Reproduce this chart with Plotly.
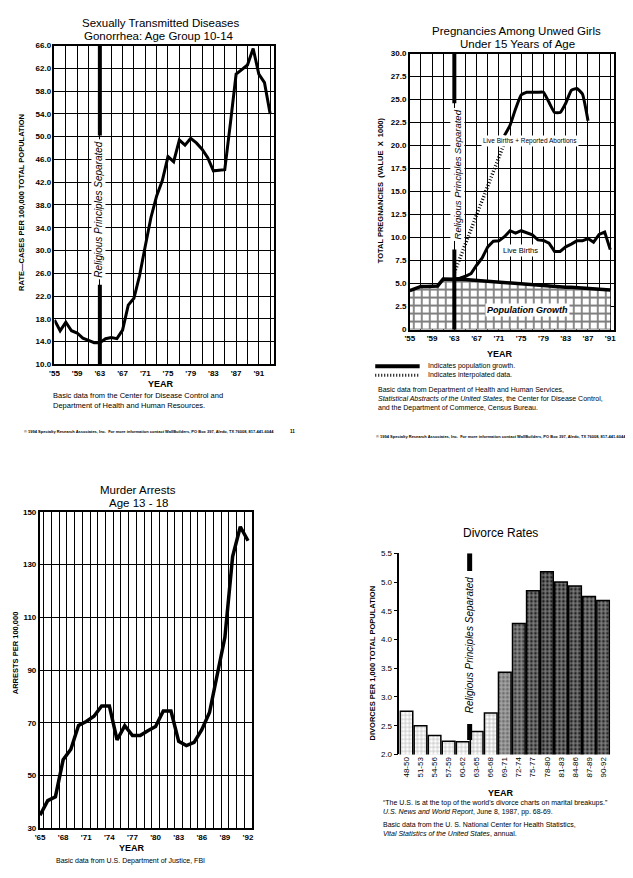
import plotly.graph_objects as go

FONT = "Liberation Sans, Arial, sans-serif"
# The page body keeps its default 8px margin, so the figure is drawn 8px in
# from the top-left corner; size and coordinates compensate for that.
OFF = 8
W, H = 617, 862

# ---------------- Chart 1: Gonorrhea, age 10-14 ----------------
gon_years = list(range(1955, 1994))
gon_rate = [17.8, 15.9, 17.4, 15.9, 15.5, 14.6, 14.2, 13.8, 13.8, 14.5,
            14.7, 14.5, 16.0, 20.4, 21.6, 25.6, 30.8, 35.8, 39.6, 42.3,
            46.5, 45.6, 49.4, 48.5, 49.7, 48.9, 47.8, 46.3, 44.0, 44.1,
            44.2, 52.4, 61.0, 61.8, 62.6, 65.5, 61.0, 59.5, 54.0]
gon_tick_years = [1955, 1959, 1963, 1967, 1971, 1975, 1979, 1983, 1987, 1991]
gon_tick_labels = ["'55", "'59", "'63", "'67", "'71", "'75", "'79", "'83", "'87", "'91"]
gon_y_ticks = [10, 14, 18, 22, 26, 30, 34, 38, 42, 46, 50, 54, 58, 62, 66]

# ---------------- Chart 2: Pregnancies among unwed girls ----------------
preg_years = list(range(1955, 1992))
pop_growth = [4.25, 4.5, 4.7, 4.7, 4.7, 4.75, 5.5, 5.5, 5.5, 5.5,
              5.45, 5.4, 5.35, 5.3, 5.25, 5.2, 5.15, 5.1, 5.05, 5.0,
              4.95, 4.9, 4.85, 4.8, 4.75, 4.7, 4.68, 4.65, 4.62, 4.6,
              4.55, 4.5, 4.48, 4.45, 4.4, 4.35, 4.3]
births_years = list(range(1963, 1992))
live_births = [5.5, 5.6, 5.8, 6.1, 7.0, 7.8, 9.0, 9.6, 9.65, 10.1,
               10.75, 10.5, 10.75, 10.5, 10.3, 9.75, 9.7, 9.4, 8.5, 8.5,
               9.0, 9.3, 9.65, 9.65, 9.9, 9.5, 10.35, 10.6, 8.7]
abort_years = list(range(1972, 1988))
births_plus_abortions = [21.1, 22.2, 24.0, 25.5, 25.8, 25.8, 25.8, 25.8, 24.7,
                         23.6, 23.6, 24.6, 26.0, 26.2, 25.6, 22.7]
interp_years = [1963, 1972]
interp_values = [6.2, 20.3]
preg_tick_years = [1955, 1959, 1963, 1967, 1971, 1975, 1979, 1983, 1987, 1991]
preg_tick_labels = ["'55", "'59", "'63", "'67", "'71", "'75", "'79", "'83", "'87", "'91"]
preg_y_ticks = [0, 2.5, 5, 7.5, 10, 12.5, 15, 17.5, 20, 22.5, 25, 27.5, 30]
preg_y_labels = ["0", "2.5", "5.0", "7.5", "10.0", "12.5", "15.0", "17.5",
                 "20.0", "22.5", "25.0", "27.5", "30.0"]

# ---------------- Chart 3: Murder arrests, age 13-18 ----------------
murder_years = list(range(1965, 1993))
murder_rate = [35, 40.5, 42, 56, 60, 69, 70.5, 72.5, 76.4, 76.4,
               63.5, 68.9, 65.2, 65.2, 67, 68.6, 74.5, 74.5, 63, 61.4,
               62.6, 67.4, 73.9, 87.4, 102.4, 133, 144.3, 139]
murder_tick_years = [1965, 1968, 1971, 1974, 1977, 1980, 1983, 1986, 1989, 1992]
murder_tick_labels = ["'65", "'68", "'71", "'74", "'77", "'80", "'83", "'86", "'89", "'92"]
murder_y_ticks = [30, 50, 70, 90, 110, 130, 150]

# ---------------- Chart 4: Divorce rates ----------------
div_periods = ["48-50", "51-53", "54-56", "57-59", "60-62", "63-65", "66-68",
               "69-71", "72-74", "75-77", "78-80", "81-83", "84-86", "87-89", "90-92"]
div_rates = [2.75, 2.5, 2.33, 2.23, 2.22, 2.4, 2.72, 3.43, 4.28, 4.85,
             5.18, 5.0, 4.93, 4.75, 4.68]
div_shades = ["white", "white", "white", "white", "white", "white", "white",
              "#6e6e6e", "#3c3c3c", "#262626", "#1e1e1e", "#222222", "#222222",
              "#282828", "#2a2a2a"]
div_solidity = [0.25, 0.25, 0.25, 0.25, 0.25, 0.3, 0.3, 0.45, 0.5, 0.5,
                0.5, 0.5, 0.5, 0.5, 0.5]
div_y_ticks = [2.0, 2.5, 3.0, 3.5, 4.0, 4.5, 5.0, 5.5]

SEPARATION_YEAR = 1963
SEPARATION_PERIOD_POS = 4.5

fig = go.Figure()

fig.add_trace(go.Scatter(x=gon_years, y=gon_rate, mode="lines",
                         line=dict(color="black", width=3), xaxis="x", yaxis="y",
                         showlegend=False))
fig.add_trace(go.Scatter(x=preg_years, y=pop_growth, mode="lines",
                         line=dict(color="black", width=3.5), fill="tozeroy",
                         fillcolor="white",
                         fillpattern=dict(shape="+", fgcolor="black", bgcolor="white",
                                          size=8, solidity=0.4),
                         xaxis="x2", yaxis="y2", showlegend=False))
fig.add_trace(go.Scatter(x=births_years, y=live_births, mode="lines",
                         line=dict(color="black", width=3), xaxis="x2", yaxis="y2",
                         showlegend=False))
fig.add_trace(go.Scatter(x=abort_years, y=births_plus_abortions, mode="lines",
                         line=dict(color="black", width=3, shape="spline", smoothing=0.4),
                         xaxis="x2", yaxis="y2", showlegend=False))
fig.add_trace(go.Scatter(x=interp_years, y=interp_values, mode="lines",
                         line=dict(color="black", width=3.5, dash="1px,2px"),
                         xaxis="x2", yaxis="y2", showlegend=False))
fig.add_trace(go.Scatter(x=murder_years, y=murder_rate, mode="lines",
                         line=dict(color="black", width=3.5), xaxis="x3", yaxis="y3",
                         showlegend=False))
fig.add_trace(go.Bar(x=div_periods, y=div_rates, xaxis="x4", yaxis="y4",
                     marker=dict(color=div_shades,
                                 line=dict(color="black", width=1.5),
                                 pattern=dict(shape="+", fgcolor="black",
                                              bgcolor=div_shades, size=4,
                                              solidity=div_solidity)),
                     showlegend=False))


def px_x(p):
    return (p - OFF) / W


def px_y(p):
    return 1 - (p - OFF) / H


tickfont = dict(family=FONT, size=8, color="black", weight="bold")
boxaxis = dict(showline=True, mirror=True, linecolor="black", linewidth=1.5,
               ticks="", zeroline=False, tickfont=tickfont,
               gridcolor="black", gridwidth=1.2)

fig.update_layout(
    width=W, height=H, autosize=False,
    margin=dict(l=0, r=0, t=0, b=0),
    paper_bgcolor="white", plot_bgcolor="white",
    font=dict(family=FONT, color="black"),
    bargap=0.1,
    xaxis=dict(domain=[px_x(50), px_x(272)], range=[1955, 1993.6], anchor="y",
               tickmode="array", tickvals=gon_tick_years, ticktext=gon_tick_labels,
               showgrid=True,
               minor=dict(tickmode="linear", tick0=1955, dtick=2, showgrid=True,
                          gridcolor="black", gridwidth=1.2, ticks=""),
               **boxaxis),
    yaxis=dict(domain=[px_y(364), px_y(42)], range=[10, 66], anchor="x",
               tickmode="array", tickvals=gon_y_ticks, tickformat=".1f",
               showgrid=True, **boxaxis),
    xaxis2=dict(domain=[px_x(410), px_x(616.5)], range=[1955, 1991.6], anchor="y2",
                tickmode="array", tickvals=preg_tick_years, ticktext=preg_tick_labels,
                showgrid=True,
                minor=dict(tickmode="linear", tick0=1955, dtick=2, showgrid=True,
                           gridcolor="black", gridwidth=1.2, ticks=""),
                **boxaxis),
    yaxis2=dict(domain=[px_y(329), px_y(50)], range=[0, 30], anchor="x2",
                tickmode="array", tickvals=preg_y_ticks, ticktext=preg_y_labels,
                showgrid=True, **boxaxis),
    xaxis3=dict(domain=[px_x(35), px_x(250)], range=[1964.95, 1992.5], anchor="y3",
                tickmode="array", tickvals=murder_tick_years, ticktext=murder_tick_labels,
                showgrid=False,
                minor=dict(tickmode="linear", tick0=1965.5, dtick=1, showgrid=True,
                           gridcolor="black", gridwidth=1.1, ticks=""),
                **boxaxis),
    yaxis3=dict(domain=[px_y(833), px_y(513)], range=[30, 150], anchor="x3",
                tickmode="array", tickvals=murder_y_ticks, showgrid=True, **boxaxis),
    xaxis4=dict(domain=[px_x(399.5), px_x(613)], anchor="y4", showline=False,
                showgrid=False, zeroline=False, ticks="", tickangle=-90,
                tickfont=dict(family=FONT, size=8, color="black")),
    yaxis4=dict(domain=[px_y(758.3), px_y(555)], range=[2.0, 5.5], anchor="x4",
                tickmode="array", tickvals=div_y_ticks, tickformat=".1f",
                showline=True, linecolor="black", linewidth=1.5, showgrid=False,
                zeroline=False, ticks="outside", ticklen=4, tickcolor="black",
                tickfont=dict(family=FONT, size=8, color="black")),
)

shapes = []
for (xr, yr, x0, segs, w) in [
        ("x", "y", SEPARATION_YEAR, [(10, 24.0), (50.2, 66)], 4),
        ("x2", "y2", SEPARATION_YEAR, [(0, 8.7), (24.6, 30)], 4),
        ("x4", "y4", SEPARATION_PERIOD_POS, [(2.25, 2.53), (5.19, 5.5)], 5)]:
    for (a, b) in segs:
        shapes.append(dict(type="line", xref=xr, yref=yr, x0=x0, x1=x0, y0=a, y1=b,
                           line=dict(color="black", width=w)))
# chart 2 legend samples
shapes.append(dict(type="line", xref="paper", yref="paper",
                   x0=px_x(375), x1=px_x(420), y0=px_y(366), y1=px_y(366),
                   line=dict(color="black", width=4)))
shapes.append(dict(type="line", xref="paper", yref="paper",
                   x0=px_x(375), x1=px_x(420), y0=px_y(375), y1=px_y(375),
                   line=dict(color="black", width=3, dash="1px,2px")))
fig.update_layout(shapes=shapes)

anns = []


def ann(text, x, y, size, xanchor="center", angle=0, bg=None, yanchor="middle",
        align="left"):
    d = dict(text=text, x=px_x(x), y=px_y(y), xref="paper", yref="paper",
             showarrow=False, font=dict(family=FONT, size=size, color="black"),
             xanchor=xanchor, yanchor=yanchor, textangle=angle, align=align)
    if bg:
        d["bgcolor"] = bg
    anns.append(d)


FOOT = "© 1994 Specialty Research Associates, Inc.  For more information contact WallBuilders, PO Box 397, Aledo, TX 76008, 817-441-6044"

# Chart 1 texts
ann("Sexually Transmitted Diseases", 157, 19, 11.5)
ann("Gonorrhea: Age Group 10-14", 156, 32, 11.5)
ann("<b>RATE—CASES PER 100,000 TOTAL POPULATION</b>", 17, 200, 7.5, angle=-90)
ann("<b>YEAR</b>", 158, 384, 9)
ann("Basic data from the Center for Disease Control and<br>Department of Health and Human Resources.",
    46, 389, 7.5, xanchor="left", yanchor="top")
ann("<b>" + FOOT + "</b>", 17, 432, 4, xanchor="left")
ann("<b>11</b>", 291, 432, 4.5)
ann("<i>Religious Principles Separated</i>", 95, 207, 10, angle=-90, bg="white")

# Chart 2 texts
ann("Pregnancies Among Unwed Girls", 518, 27, 11.5)
ann("Under 15 Years of Age", 519, 40, 11.5)
ann("<b>TOTAL PREGNANCIES  (VALUE  X  1000)</b>", 380, 188, 7.5, angle=-90)
ann("<b>YEAR</b>", 501, 354, 9)
ann("Live Births + Reported Abortions", 532, 138, 6.5, bg="white")
ann("Live Births", 522, 249, 7.5, bg="white")
ann("<b><i>Population Growth</i></b>", 529, 309, 9, bg="white")
ann("<i>Religious Principles Separated</i>", 458, 172, 9.5, angle=-90, bg="white")
ann("Indicates population growth.", 426, 366, 7, xanchor="left")
ann("Indicates interpolated data.", 426, 375, 7, xanchor="left")
ann("Basic data from Department of Health and Human Services,<br>"
    "<i>Statistical Abstracts of the United States</i>, the Center for Disease Control,<br>"
    "and the Department of Commerce, Census Bureau.", 376, 399, 7, xanchor="left")
ann("<b>" + FOOT + "</b>", 374, 437, 4, xanchor="left")

# Chart 3 texts
ann("Murder Arrests", 135, 491, 11.5)
ann("Age 13 - 18", 135, 504, 11.5)
ann("<b>ARRESTS PER 100,000</b>", 10, 655, 7.5, angle=-90)
ann("<b>YEAR</b>", 129, 853, 9)
ann("Basic data from U.S. Department of Justice, FBI", 50, 866, 7, xanchor="left")

# Chart 4 texts
ann("Divorce Rates", 502, 535, 12)
ann("<b>DIVORCES PER 1,000 TOTAL POPULATION</b>", 372, 666, 7.5, angle=-90)
ann("<b>YEAR</b>", 502, 797, 9)
ann("“The U.S. is at the top of the world's divorce charts on marital breakups.”<br>"
    "<i>U.S. News and World Report</i>, June 8, 1987, pp. 68-69.", 381, 812, 7,
    xanchor="left")
ann("Basic data from the U. S. National Center for Health Statistics,<br>"
    "<i>Vital Statistics of the United States</i>, annual.", 381, 834, 7, xanchor="left")
ann("<i>Religious Principles Separated</i>", 470, 648, 10, angle=-90)

fig.update_layout(annotations=anns)

fig.write_html("out.html")
